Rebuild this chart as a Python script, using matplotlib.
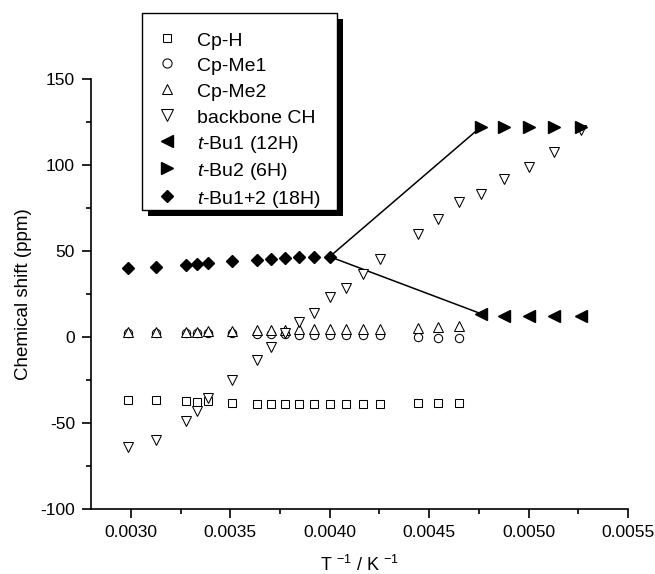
import matplotlib
matplotlib.use('Agg')
import matplotlib.pyplot as plt
from matplotlib.patches import Rectangle
from matplotlib.ticker import MultipleLocator

plt.rcParams['font.family'] = ['Liberation Sans', 'DejaVu Sans']
plt.rcParams['mathtext.fontset'] = 'custom'
plt.rcParams['mathtext.rm'] = 'Liberation Sans'
plt.rcParams['mathtext.it'] = 'Liberation Sans:italic'
plt.rcParams['mathtext.default'] = 'regular'
plt.rcParams['axes.unicode_minus'] = False

# inverse temperature (1/K)
x_cp = [0.002985, 0.003125, 0.003279, 0.003333, 0.003390, 0.003509, 0.003636,
        0.003704, 0.003774, 0.003846, 0.003922, 0.004000, 0.004082, 0.004167,
        0.004255, 0.004444, 0.004545, 0.004651]
x_bb = x_cp + [0.004762, 0.004878, 0.005000, 0.005128, 0.005263]
x_tbu12 = x_cp[:12]
x_tbu = [0.004762, 0.004878, 0.005000, 0.005128, 0.005263]

# chemical shifts (ppm)
cp_h = [-36.6, -36.6, -37.2, -37.6, -37.2, -38.6, -39.2, -39.2, -39.2, -39.2,
        -39.2, -39.2, -39.2, -39.2, -39.2, -38.6, -38.6, -38.6]
cp_me1 = [2.5, 2.5, 2.5, 2.5, 2.4, 2.2, 1.8, 1.6, 1.5, 1.4, 1.3, 1.2, 1.0, 1.0,
          0.9, -0.2, -0.4, -0.6]
cp_me2 = [3.0, 3.0, 3.0, 3.0, 3.2, 3.6, 4.0, 4.2, 4.2, 4.4, 4.4, 4.4, 4.6, 4.6,
          4.6, 5.2, 5.6, 6.2]
backbone = [-63.8, -59.9, -48.7, -43.0, -35.6, -25.0, -13.4, -5.6, 2.2, 8.7,
            14.1, 23.1, 28.7, 36.5, 45.3, 59.8, 68.8, 78.4, 83.1, 92.0, 99.0,
            107.7, 120.3]
tbu1 = [13.5, 12.2, 12.0, 12.0, 12.0]
tbu2 = [122.3, 122.3, 122.3, 122.3, 122.3]
tbu12 = [39.9, 40.5, 41.9, 42.3, 43.2, 44.2, 44.8, 45.5, 45.9, 46.3, 46.7, 46.7]

fig = plt.figure(figsize=(6.55, 5.74), dpi=100)
ax = fig.add_axes([91/655, 1-509/574, 537/655, 430/574])

ax.plot([x_tbu12[-1], x_tbu[0]], [tbu12[-1], tbu2[0]], color='black', lw=1.1)
ax.plot([x_tbu12[-1], x_tbu[0]], [tbu12[-1], tbu1[0]], color='black', lw=1.1)

ow = dict(markerfacecolor='white', markeredgecolor='black', markeredgewidth=0.75, linestyle='none')
fk = dict(color='black', linestyle='none')
ax.plot(x_cp, cp_h, marker='s', markersize=5.2, label='Cp-H', **ow)
ax.plot(x_cp, cp_me1, marker='o', markersize=6, label='Cp-Me1', **ow)
ax.plot(x_cp, cp_me2, marker='^', markersize=7, label='Cp-Me2', **ow)
ax.plot(x_bb, backbone, marker='v', markersize=7.5, label='backbone CH', **ow)
ax.plot(x_tbu, tbu1, marker='<', markersize=8, label='$\\it{t}$-Bu1 (12H)', **fk)
ax.plot(x_tbu, tbu2, marker='>', markersize=8, label='$\\it{t}$-Bu2 (6H)', **fk)
ax.plot(x_tbu12, tbu12, marker='D', markersize=6, label='$\\it{t}$-Bu1+2 (18H)', **fk)

ax.set_xlim(0.0028, 0.0055)
ax.set_ylim(-100, 150)
ax.xaxis.set_major_locator(MultipleLocator(0.0005))
ax.xaxis.set_minor_locator(MultipleLocator(0.00025))
ax.yaxis.set_major_locator(MultipleLocator(50))
ax.yaxis.set_minor_locator(MultipleLocator(25))
ax.xaxis.set_major_formatter(plt.FuncFormatter(lambda v, p: '%.4f' % v))
for s in ['top', 'right']:
    ax.spines[s].set_visible(False)
for s in ['left', 'bottom']:
    ax.spines[s].set_linewidth(1.2)
ax.tick_params(which='major', direction='out', length=6.5, width=1.2, labelsize=12.5, pad=5)
ax.tick_params(which='minor', direction='out', length=3.5, width=1.2)
ax.set_xlabel('T $^{-1}$ / K $^{-1}$', fontsize=13, labelpad=11)
ax.set_ylabel('Chemical shift (ppm)', fontsize=13.5, labelpad=6)

# legend without its own frame; box + black shadow drawn separately
leg = fig.legend(loc='upper left', bbox_to_anchor=(142/655, 1-15/574), fontsize=14,
                 frameon=False, labelspacing=0.3, handlelength=1.03, handleheight=1.1,
                 handletextpad=1.03, borderpad=0.75, borderaxespad=0,
                 numpoints=1, markerscale=1.1)
leg.set_zorder(10)

fig.canvas.draw()
bb = leg.get_window_extent()
x0, x1 = bb.x0, bb.x1 + 2
y0, y1 = bb.y0 + 15, bb.y1 + 2
inv = fig.transFigure.inverted()
(fx0, fy0), (fx1, fy1) = inv.transform([(x0, y0), (x1, y1)])
dx, dy = 6/655, 6/574
fig.patches.append(Rectangle((fx0 + dx, fy0 - dy), fx1 - fx0, fy1 - fy0, transform=fig.transFigure,
                             facecolor='black', edgecolor='none', zorder=8))
fig.patches.append(Rectangle((fx0, fy0), fx1 - fx0, fy1 - fy0, transform=fig.transFigure,
                             facecolor='white', edgecolor='black', lw=1.0, zorder=9))

fig.savefig('out.png', dpi=100)
